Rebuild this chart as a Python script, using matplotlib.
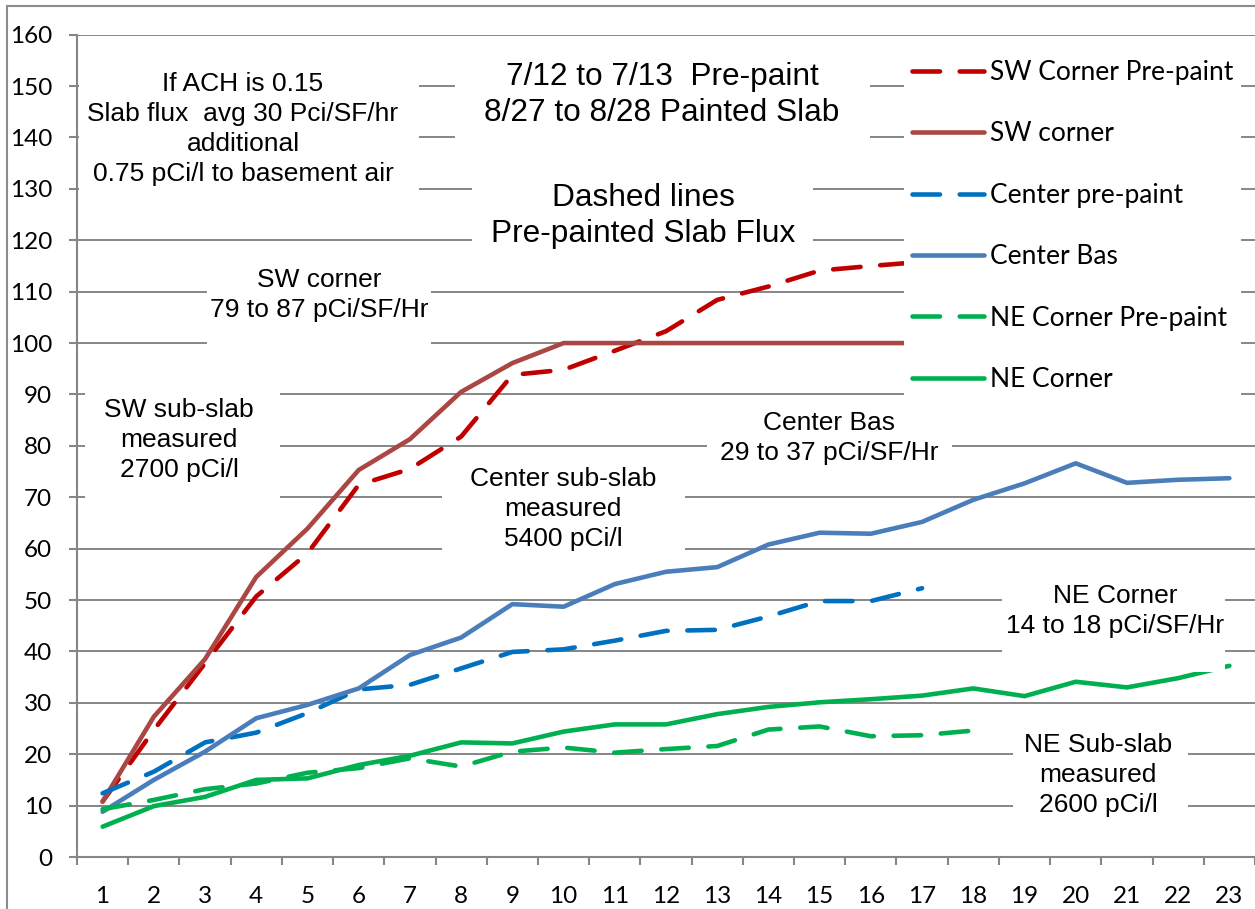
import matplotlib
matplotlib.use("Agg")
import matplotlib.pyplot as plt
from matplotlib.patches import Rectangle

# Data
days = list(range(1, 24))
sw_pre_paint = [10.8, 24.7, 37.7, 50.7, 59.1, 72.4, 75.5, 81.8, 93.8, 94.8, 98.5,
                102.3, 108.4, 111.0, 114.1, 115.0, 115.8]
sw_corner = [10.8, 27.3, 38.5, 54.5, 63.9, 75.3, 81.3, 90.5, 96.1, 100.0, 100.0,
             100.0, 100.0, 100.0, 100.0, 100.0, 100.0]
center_pre_paint = [12.4, 16.6, 22.3, 24.2, 28.0, 32.6, 33.5, 36.7, 39.9, 40.4, 42.1,
                    44.0, 44.2, 46.8, 49.8, 49.8, 52.3]
center_bas = [8.8, 15.0, 20.5, 27.0, 29.6, 32.8, 39.3, 42.7, 49.2, 48.7, 53.1, 55.5,
              56.4, 60.8, 63.1, 62.9, 65.2, 69.5, 72.7, 76.6, 72.8, 73.4, 73.7]
ne_pre_paint = [9.3, 11.1, 13.2, 14.3, 16.4, 17.3, 19.2, 17.6, 20.5, 21.3, 20.3,
                21.0, 21.6, 24.8, 25.4, 23.5, 23.7, 24.6]
ne_corner = [5.9, 9.9, 11.7, 15.0, 15.3, 17.9, 19.7, 22.3, 22.1, 24.4, 25.8, 25.8,
             27.8, 29.2, 30.1, 30.7, 31.4, 32.8, 31.3, 34.1, 33.0, 34.8, 37.2]

series = [
    ("SW Corner Pre-paint", sw_pre_paint, "#C00000", True),
    ("SW corner", sw_corner, "#AA4643", False),
    ("Center pre-paint", center_pre_paint, "#0070C0", True),
    ("Center Bas", center_bas, "#4A7EBB", False),
    ("NE Corner Pre-paint", ne_pre_paint, "#00B050", True),
    ("NE Corner", ne_corner, "#00B050", False),
]

W, H = 1255, 909
GRID = "#868686"
LW = 3.3
DASH = (6.0, 4.3)

fig = plt.figure(figsize=(W / 100, H / 100), dpi=100)
fig.patch.set_facecolor("white")


def fx(x):
    return x / W


def fy(y):
    return 1 - y / H


ax = fig.add_axes([fx(77), fy(857), (W - 77) / W, (857 - 34.7) / H])
ax.set_xlim(0.5, 23.5)
ax.set_ylim(0, 160)

handles = []
for name, vals, color, dashed in series:
    xs = days[:len(vals)]
    if dashed:
        ln, = ax.plot(xs, vals, color=color, lw=LW, dashes=DASH,
                      dash_capstyle="round", solid_joinstyle="round", label=name, zorder=3)
    else:
        ln, = ax.plot(xs, vals, color=color, lw=LW, solid_capstyle="round",
                      solid_joinstyle="round", label=name, zorder=3)
    handles.append(ln)

# axes styling
for s in ("top", "right"):
    ax.spines[s].set_visible(False)
for s in ("left", "bottom"):
    ax.spines[s].set_color(GRID)
    ax.spines[s].set_linewidth(1.5)

ax.set_yticks(range(0, 161, 10))
ax.yaxis.grid(True, color=GRID, lw=1.4)
ax.set_axisbelow(True)
ax.tick_params(axis="y", length=6, width=1.5, color=GRID, pad=12, labelsize=17.5)

ax.set_xticks(days)
ax.set_xticks([d + 0.5 for d in range(0, 24)], minor=True)
ax.tick_params(axis="x", which="major", length=0, pad=21, labelsize=17.5)
ax.tick_params(axis="x", which="minor", length=6, width=1.5, color=GRID)
for lab in ax.get_xticklabels() + ax.get_yticklabels():
    lab.set_fontfamily("Lato")

leg = ax.legend(handles=handles, loc="upper left",
                bbox_to_anchor=(fx(904), fy(52)), bbox_transform=fig.transFigure,
                prop={"family": "Lato", "size": 19}, handlelength=2.75,
                handletextpad=0.2, labelspacing=1.38, borderpad=0.3,
                borderaxespad=0, frameon=True, fancybox=False, framealpha=1)
leg.get_frame().set_facecolor("white")
leg.get_frame().set_edgecolor("none")
leg.set_zorder(5)

# text boxes (white filled, pixel boxes and centres)
notes = [
    ((79, 50, 419, 200), (243, 129), 19,
     "If ACH is 0.15\nSlab flux  avg 30 Pci/SF/hr\nadditional\n0.75 pCi/l to basement air"),
    ((455, 50, 870, 145), (662, 95), 22.8,
     "7/12 to 7/13  Pre-paint\n8/27 to 8/28 Painted Slab"),
    ((472, 160, 813, 255), (643, 216), 22.8,
     "Dashed lines\nPre-painted Slab Flux"),
    ((207, 262, 431, 355), (319, 295), 19, "SW corner\n79 to 87 pCi/SF/Hr"),
    ((85, 385, 280, 505), (179, 440), 19, "SW sub-slab\nmeasured\n2700 pCi/l"),
    ((707, 402, 952, 475), (829, 438), 19, "Center Bas\n29 to 37 pCi/SF/Hr"),
    ((442, 458, 685, 560), (563, 509), 19, "Center sub-slab\nmeasured\n5400 pCi/l"),
    ((1002, 575, 1225, 672), (1115, 611), 19, "NE Corner\n14 to 18 pCi/SF/Hr"),
    ((1013, 728, 1188, 822), (1098, 775), 19, "NE Sub-slab\nmeasured\n2600 pCi/l"),
]
for (x0, y0, x1, y1), (cx, cy), size, txt in notes:
    fig.patches.append(Rectangle((fx(x0), fy(y1)), (x1 - x0) / W, (y1 - y0) / H,
                                 transform=fig.transFigure, facecolor="white",
                                 edgecolor="none", zorder=3))
    fig.text(fx(cx), fy(cy), txt, ha="center", va="center", multialignment="center",
             fontsize=size, family="Liberation Sans", linespacing=1.3, zorder=4)

# outer chart border
fig.patches.append(Rectangle((fx(7), fy(H + 10)), (W + 10) / W, (H + 4) / H,
                             transform=fig.transFigure, facecolor="none",
                             edgecolor="#8C8C8C", lw=1.5, zorder=6))

fig.savefig("out.png", dpi=100)
